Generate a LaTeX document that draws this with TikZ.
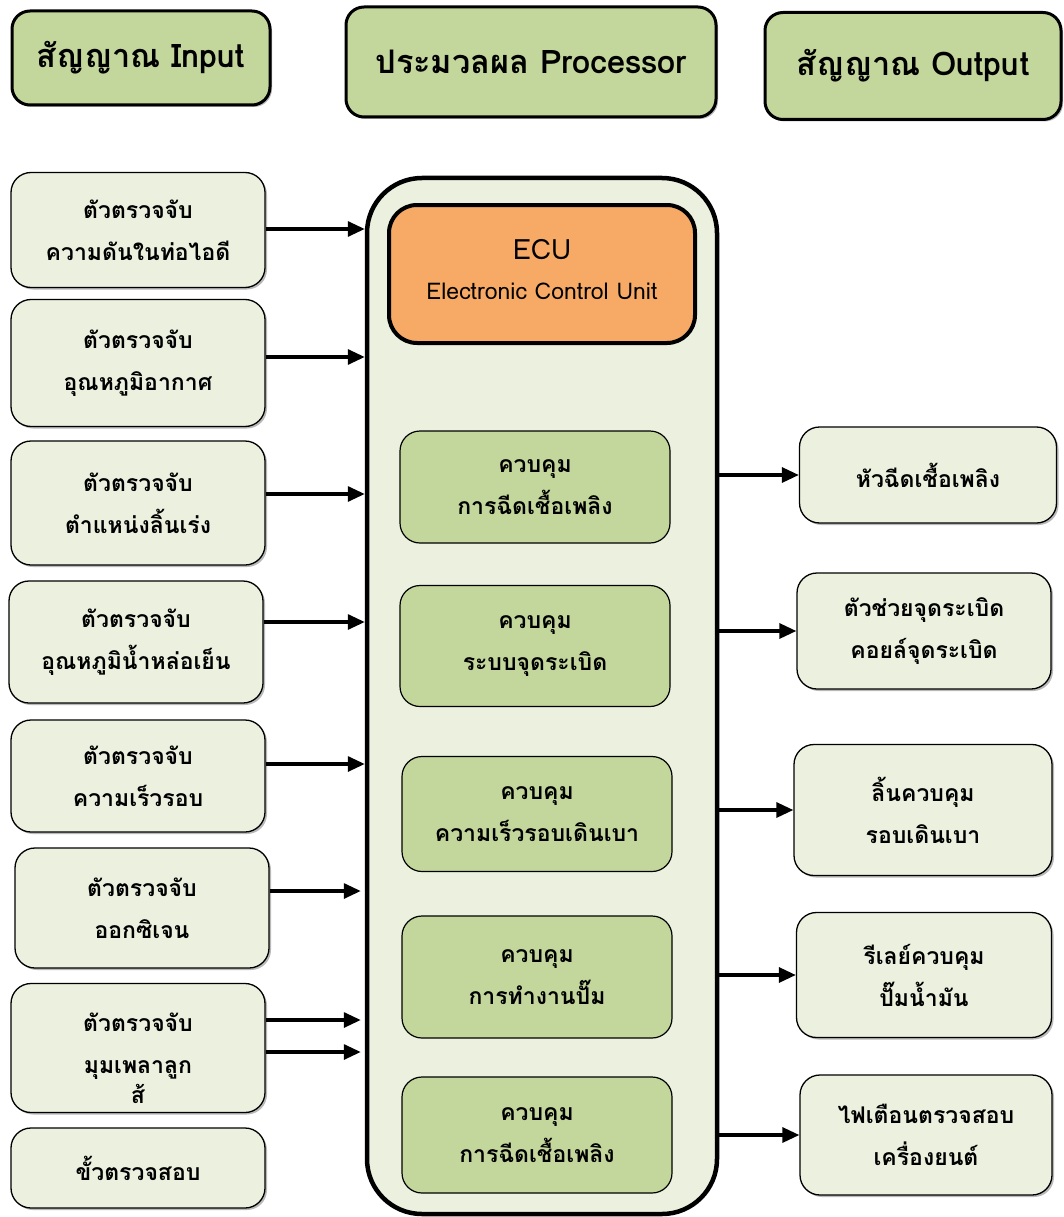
\documentclass[tikz,border=0pt]{standalone}
\usepackage{fontspec}
\setmainfont[Script=Thai]{Loma}
\usetikzlibrary{arrows.meta,shadows,calc}
\definecolor{hdrgreen}{HTML}{C3D69B}
\definecolor{lightbg}{HTML}{EBF1DE}
\definecolor{ecuorange}{HTML}{F6AA66}
\begin{document}
\begin{tikzpicture}[x=1pt,y=-1pt,
  shd/.style={drop shadow={shadow xshift=2pt,shadow yshift=-2pt,fill=black!55,opacity=0.5}},
  hdr/.style={draw=black, line width=3pt, rounded corners=18pt, fill=hdrgreen, shd,
    font=\fontsize{32.5}{36}\selectfont\bfseries, inner sep=0pt},
  inbox/.style={draw=black, line width=1.3pt, rounded corners=20pt, fill=lightbg, shd,
    font=\fontsize{23}{42}\selectfont\bfseries, align=center, inner sep=0pt},
  ctrl/.style={draw=black, line width=1.2pt, rounded corners=20pt, fill=hdrgreen,
    font=\fontsize{23}{42}\selectfont\bfseries, align=center, inner sep=0pt},
  arr/.style={line width=3.2pt, -{Triangle[length=17pt,width=15pt]}}
]
\useasboundingbox (0,0) rectangle (1063,1217);
% headers
\node[hdr, minimum width=258pt, minimum height=94pt] (hin) at (141,58) {สัญญาณ Input};
\node[hdr, minimum width=370pt, minimum height=110pt] (hproc) at (531,62) {ประมวลผล Processor};
\node[hdr, minimum width=296pt, minimum height=107pt] (hout) at (913,66) {สัญญาณ Output};
% container
\node[draw=black, line width=4.5pt, rounded corners=55pt, fill=lightbg,
  minimum width=350pt, minimum height=1036pt, inner sep=0pt] (cont) at (542,696) {};
% ECU
\node[draw=black, line width=4pt, rounded corners=28pt, fill=ecuorange,
  minimum width=306pt, minimum height=138pt, inner sep=0pt] (ecu) at (542,274) {};
\node[align=center, font=\fontsize{23}{40}\selectfont] (ecutext) at (542,270)
  {{\fontsize{28}{30}\selectfont ECU}\\Electronic Control Unit};
% control boxes
\node[ctrl, minimum width=270pt, minimum height=112pt] (c1) at (535,487) {ควบคุม\\การฉีดเชื้อเพลิง};
\node[ctrl, minimum width=270pt, minimum height=121pt] (c2) at (535,646) {ควบคุม\\ระบบจุดระเบิด};
\node[ctrl, minimum width=270pt, minimum height=115pt] (c3) at (537,814) {ควบคุม\\ความเร็วรอบเดินเบา};
\node[ctrl, minimum width=270pt, minimum height=122pt] (c4) at (537,977) {ควบคุม\\การทำงานปั๊ม};
\node[ctrl, minimum width=270pt, minimum height=116pt] (c5) at (537,1135) {ควบคุม\\การฉีดเชื้อเพลิง};
% input boxes
\node[inbox, minimum width=254pt, minimum height=115pt] (l1) at (138,230) {ตัวตรวจจับ\\ความดันในท่อไอดี};
\node[inbox, minimum width=254pt, minimum height=127pt] (l2) at (138,363) {ตัวตรวจจับ\\อุณหภูมิอากาศ};
\node[inbox, minimum width=254pt, minimum height=124pt] (l3) at (138,503) {ตัวตรวจจับ\\ตำแหน่งลิ้นเร่ง};
\node[inbox, minimum width=254pt, minimum height=122pt] (l4) at (136,642) {ตัวตรวจจับ\\อุณหภูมิน้ำหล่อเย็น};
\node[inbox, minimum width=254pt, minimum height=112pt] (l5) at (138,776) {ตัวตรวจจับ\\ความเร็วรอบ};
\node[inbox, minimum width=254pt, minimum height=120pt] (l6) at (142,908) {ตัวตรวจจับ\\ออกซิเจน};
\node[inbox, minimum width=254pt, minimum height=129pt, text height=112pt] (l7) at (138,1048) {ตัวตรวจจับ\\มุมเพลาลูก\\[-12pt]ส้};
\node[inbox, minimum width=254pt, minimum height=80pt] (l8) at (138,1168) {ขั้วตรวจสอบ};
% output boxes
\node[inbox, minimum width=257pt, minimum height=96pt] (r1) at (928,475) {หัวฉีดเชื้อเพลิง};
\node[inbox, minimum width=254pt, minimum height=116pt] (r2) at (924,631) {ตัวช่วยจุดระเบิด\\คอยล์จุดระเบิด};
\node[inbox, minimum width=258pt, minimum height=131pt] (r3) at (923,810) {ลิ้นควบคุม\\รอบเดินเบา};
\node[inbox, minimum width=255pt, minimum height=125pt] (r4) at (924,975) {รีเลย์ควบคุม\\ปั๊มน้ำมัน};
\node[inbox, minimum width=252pt, minimum height=120pt] (r5) at (926,1135) {ไฟเตือนตรวจสอบ\\เครื่องยนต์};
% input arrows
\draw[arr] ([yshift=1pt]l1.east) -- ([yshift=1pt]l1.east -| cont.west);
\draw[arr] ([yshift=6pt]l2.east) -- ([yshift=6pt]l2.east -| cont.west);
\draw[arr] ([yshift=9pt]l3.east) -- ([yshift=9pt]l3.east -| cont.west);
\draw[arr] ([yshift=20pt]l4.east) -- ([yshift=20pt]l4.east -| cont.west);
\draw[arr] ([yshift=12pt]l5.east) -- ([yshift=12pt]l5.east -| cont.west);
\draw[arr] ([yshift=17pt]l6.east) -- ([yshift=17pt,xshift=-4pt]l6.east -| cont.west);
\draw[arr] ([yshift=28pt]l7.east) -- ([yshift=28pt,xshift=-4pt]l7.east -| cont.west);
\draw[arr] ([yshift=-4pt]l7.east) -- ([yshift=-4pt,xshift=-4pt]l7.east -| cont.west);
% output arrows
\draw[arr] (r1.west -| cont.east) -- (r1.west);
\draw[arr] (r2.west -| cont.east) -- (r2.west);
\draw[arr] (r3.west -| cont.east) -- (r3.west);
\draw[arr] (r4.west -| cont.east) -- (r4.west);
\draw[arr] (r5.west -| cont.east) -- (r5.west);
\end{tikzpicture}
\end{document}
